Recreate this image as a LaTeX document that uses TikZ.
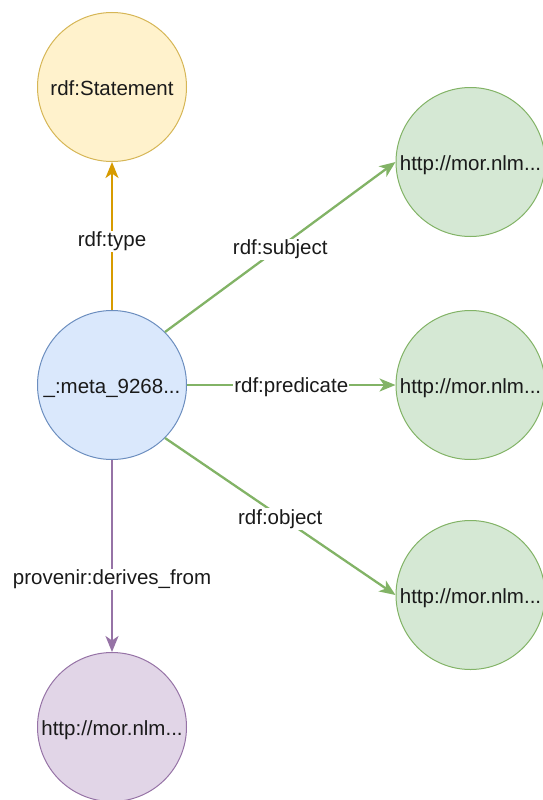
\documentclass[tikz,border=0pt]{standalone}
\usepackage{fontspec}
\setmainfont{Liberation Sans}
\usetikzlibrary{arrows.meta}
\definecolor{yfill}{HTML}{FFF2CC}\definecolor{ydraw}{HTML}{D6B656}\definecolor{yedge}{HTML}{D79B00}
\definecolor{bfill}{HTML}{DAE8FC}\definecolor{bdraw}{HTML}{6C8EBF}
\definecolor{gfill}{HTML}{D5E8D4}\definecolor{gdraw}{HTML}{82B366}
\definecolor{pfill}{HTML}{E1D5E7}\definecolor{pdraw}{HTML}{9673A6}
\definecolor{txt}{HTML}{1A1A1A}
\tikzset{
  circ/.style={circle, minimum size=149pt, inner sep=0pt, line width=1pt, text=txt,
    font=\fontsize{20.5}{24}\selectfont, text height=17pt, text depth=0pt},
  ynode/.style={circ, fill=yfill, draw=ydraw},
  bnode/.style={circ, fill=bfill, draw=bdraw},
  gnode/.style={circ, fill=gfill, draw=gdraw},
  pnode/.style={circ, fill=pfill, draw=pdraw},
  edge/.style={line width=2.3pt, -{Stealth[length=16pt,width=13pt,inset=4.5pt]}},
  lbl/.style={fill=white, inner sep=1pt, yshift=-2.5pt, text height=15pt, text depth=4.5pt,
    text=txt, font=\fontsize{20.5}{24}\selectfont}
}
\begin{document}
\begin{tikzpicture}[x=1pt,y=-1pt]
\useasboundingbox (0,0) rectangle (543,800);
\node[ynode] (st) at (112,87) {rdf:Statement};
\node[bnode] (m) at (112,385) {\_:meta\_9268...};
\node[gnode] (s) at (470.5,162) {http://mor.nlm...};
\node[gnode] (p) at (470.5,385) {http://mor.nlm...};
\node[gnode] (o) at (470.5,595) {http://mor.nlm...};
\node[pnode] (d) at (112,727) {http://mor.nlm...};
\draw[edge, draw=yedge, fill=yedge] (m.north) -- node[lbl, pos=0.48] {rdf:type} (st.south);
\draw[edge, draw=gdraw, fill=gdraw] (m.north east) -- node[lbl] {rdf:subject} (s.west);
\draw[edge, draw=gdraw, fill=gdraw] (m.east) -- node[lbl] {rdf:predicate} (p.west);
\draw[edge, draw=gdraw, fill=gdraw] (m.south east) -- node[lbl] {rdf:object} (o.west);
\draw[edge, draw=pdraw, fill=pdraw] (m.south) -- node[lbl, pos=0.61] {provenir:derives\_from} (d.north);
\end{tikzpicture}
\end{document}
